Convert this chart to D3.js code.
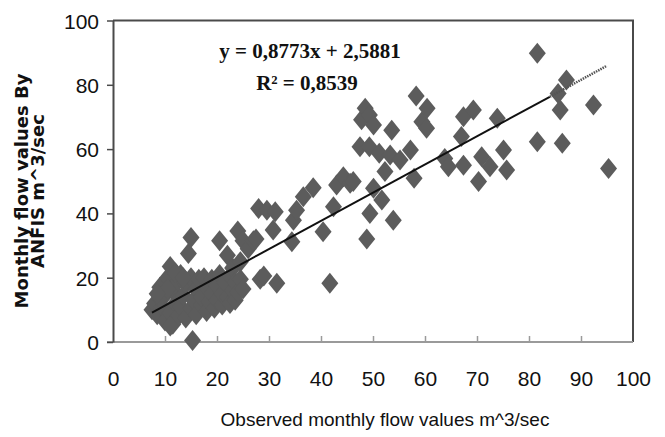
<!DOCTYPE html>
<meta charset="utf-8">
<style>
body { margin: 0; background: #fff; }
.tick text { font-family: "Liberation Sans", Arial, sans-serif; font-size: 21px; fill: #111; }
</style>
<body>
<div id="chart"></div>
<script src="https://cdn.jsdelivr.net/npm/d3@7"></script>
<script>
// observed (x) vs ANFIS (y) monthly flow
var observed = [7.5, 8, 8.5, 9, 9.5, 9.7, 10, 10.5, 11, 11, 11.5, 11.5, 12, 12.5, 12.5, 13, 13, 13.5, 14, 14,
  14.5, 15, 15, 15, 15.3, 15.5, 16, 16, 16.5, 17, 17, 17.5, 18, 18, 18.5, 19, 19, 19.5, 20, 20,
  20.5, 20.5, 21, 21, 21.5, 22, 22, 22.5, 22.5, 23, 23, 23.5, 23.5, 24, 24, 24.5, 24.5, 25, 25, 26,
  27, 27.5, 28, 28.3, 29, 29.6, 30.8, 31.2, 31.5, 34.4, 34.7, 35.3, 36.6, 38.5, 40.4, 41.7, 42.4, 43, 44.3, 45.6,
  46.2, 47.5, 47.8, 48.5, 48.8, 49.3, 49.3, 49.4, 50.1, 50.1, 51.2, 51.7, 52.3, 53.3, 53.6, 53.9, 55.2, 57.2, 57.9, 58.3,
  59.4, 60.3, 60.4, 63.8, 64.5, 67, 67.4, 67.4, 69.3, 70.3, 70.9, 72.5, 73.9, 75.1, 75.7, 81.6, 81.6, 85.6, 86, 86.4,
  87.2, 92.4, 95.3, 9, 10.5, 12, 13.5, 11, 8.5];
var predicted = [10, 12, 8.5, 17, 11, 14, 6.5, 20, 23.5, 9, 5.5, 16, 12, 19, 8, 21, 11, 14.5, 7.5, 18,
  27.5, 32.5, 10.5, 20, 0.5, 13, 16.5, 8.5, 19.5, 11.5, 14, 20, 9.5, 17, 12.5, 15, 19.5, 10.5, 13, 17.5,
  31.5, 21, 11.5, 15, 18.5, 14, 27, 20.5, 12, 16, 23, 18.5, 13, 15.5, 34.5, 19.5, 25, 16.5, 31.5, 29,
  31.5, 32, 41.5, 19.5, 20.5, 41, 34.8, 40.5, 18.3, 31.2, 37.9, 41, 45.2, 48, 34.3, 18.3, 42.1, 48.8, 51.4, 49.4,
  49.9, 60.7, 69.1, 72.7, 32, 70.6, 60.7, 40, 67.5, 47.8, 58.7, 44.2, 53, 58.2, 65.9, 37.9, 56.6, 59.7, 50.9, 76.5,
  68.5, 66.5, 72.7, 57.1, 54.5, 63.9, 55, 70.1, 72.2, 49.9, 57.6, 54.5, 69.6, 59.7, 53.5, 89.8, 62.3, 77.3, 72.2, 61.8,
  81.5, 73.7, 54, 13.5, 16.5, 21.5, 20, 5, 15];

var slope = 0.8773, intercept = 2.5881;
var xTicks = [0, 10, 20, 30, 40, 50, 60, 70, 80, 90, 100];
var yTicks = [0, 20, 40, 60, 80, 100];

var W = 665, H = 437;
var margin = {top: 20.5, right: 32, bottom: 95, left: 113};

var svg = d3.select("#chart").append("svg")
    .attr("width", W).attr("height", H);

var x = d3.scaleLinear().domain([0, 100]).range([margin.left, W - margin.right]);
var y = d3.scaleLinear().domain([0, 100]).range([H - margin.bottom, margin.top]);

// frame: top and right
svg.append("path")
    .attr("d", "M" + x(0) + "," + y(100) + "H" + x(100) + "V" + y(0))
    .attr("fill", "none").attr("stroke", "#4a4a4a").attr("stroke-width", 2);

// x axis (light grey, ticks pointing up)
var xa = svg.append("g")
    .attr("transform", "translate(0," + y(0) + ")")
    .call(d3.axisBottom(x).tickValues(xTicks).tickSizeInner(-6).tickSizeOuter(0).tickPadding(29));
xa.select(".domain").attr("stroke", "#9a9a9a").attr("stroke-width", 2)
    .attr("d", "M" + (x(0) - 6) + ",0H" + x(100));
xa.selectAll(".tick line").attr("stroke", "#9a9a9a").attr("stroke-width", 1.5);
xa.selectAll(".tick").filter(function(d) { return d === 0 || d === 100; }).select("line").remove();

// y axis
var ya = svg.append("g")
    .attr("transform", "translate(" + x(0) + ",0)")
    .call(d3.axisLeft(y).tickValues(yTicks).tickSize(6).tickSizeOuter(0).tickPadding(8));
ya.select(".domain").attr("stroke", "#4a4a4a").attr("stroke-width", 2);
ya.selectAll(".tick line").attr("stroke", "#4a4a4a").attr("stroke-width", 1.5);
ya.selectAll(".tick text").attr("dy", "0.36em");

// points
var pts = observed.map(function(v, i) { return {o: v, p: predicted[i]}; });
svg.append("g").selectAll("path")
    .data(pts)
    .enter().append("path")
    .attr("d", "M0,-10.5L8.5,0L0,10.5L-8.5,0Z")
    .attr("transform", function(d) { return "translate(" + x(d.o) + "," + y(d.p) + ")"; })
    .attr("fill", "#5c5c5c");

// trend line
var line = d3.line()
    .x(function(d) { return x(d); })
    .y(function(d) { return y(slope * d + intercept); });
svg.append("path").datum([7.5, 84])
    .attr("d", line).attr("stroke", "#111").attr("stroke-width", 2).attr("fill", "none");
svg.append("path").datum([84, 95])
    .attr("d", line).attr("stroke", "#555").attr("stroke-width", 2.5)
    .attr("stroke-dasharray", "1.5,1").attr("fill", "none");

// equation
svg.append("text")
    .attr("x", 310).attr("y", 58)
    .attr("text-anchor", "middle")
    .style("font-family", "'Liberation Serif', 'Times New Roman', serif")
    .style("font-size", "21px").style("font-weight", "bold").style("fill", "#111")
    .text("y = 0,8773x + 2,5881");
svg.append("text")
    .attr("x", 307).attr("y", 90)
    .attr("text-anchor", "middle")
    .style("font-family", "'Liberation Serif', 'Times New Roman', serif")
    .style("font-size", "21px").style("font-weight", "bold").style("fill", "#111")
    .text("R² = 0,8539");

// axis titles
svg.append("text")
    .attr("x", 385).attr("y", 426)
    .attr("text-anchor", "middle")
    .style("font-family", "'Liberation Sans', Arial, sans-serif")
    .style("font-size", "19px").style("fill", "#111")
    .text("Observed monthly flow values m^3/sec");

var yt = svg.append("text")
    .attr("transform", "translate(28,191) rotate(-90)")
    .attr("text-anchor", "middle")
    .style("font-family", "'DejaVu Sans', sans-serif")
    .style("font-size", "18px").style("font-weight", "bold").style("fill", "#111");
yt.append("tspan").attr("x", 0).attr("y", 0).text("Monthly  flow values  By");
yt.append("tspan").attr("x", 0).attr("y", 16).text("ANFIS m^3/sec");
</script>
</body>
